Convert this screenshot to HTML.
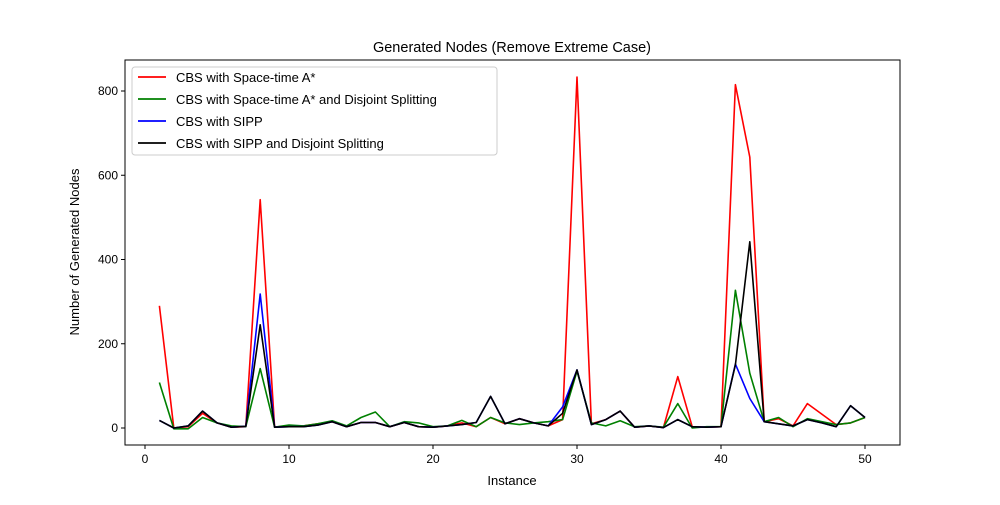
<!DOCTYPE html>
<html><head><meta charset="utf-8"><style>
body{margin:0;background:#fff;font-family:"Liberation Sans","DejaVu Sans",sans-serif}
svg text{font-family:"Liberation Sans","DejaVu Sans",sans-serif}
</style></head><body>
<svg id="chart" width="1000" height="500" xmlns="http://www.w3.org/2000/svg">
<rect width="1000" height="500" fill="#fff"/>
<g id="plot"></g>
</svg>
<script>
const instances = Array.from({length:50},(_,i)=>i+1);
const cbsAstar = [290,0,3,35,12,2,3,542,2,5,5,10,15,3,13,13,3,13,3,2,5,12,3,25,10,22,12,5,20,833,10,20,40,2,5,1,122,3,2,3,815,643,15,22,5,58,33,8,12,25];
const cbsAstarDS = [108,-2,-2,25,12,5,3,141,2,7,5,10,17,5,25,38,3,15,12,3,5,18,3,25,12,8,12,15,20,135,12,5,17,3,5,2,58,0,3,3,327,130,15,25,3,22,15,8,12,25];
const cbsSipp = [18,0,5,40,12,2,4,318,2,3,3,7,15,3,13,13,3,13,3,2,5,8,13,75,10,22,12,5,50,138,8,20,40,2,5,1,20,3,2,3,152,70,15,10,5,20,12,3,53,25];
const cbsSippDS = [18,0,5,40,12,2,4,245,2,3,3,7,15,3,13,13,3,13,3,2,5,8,13,75,10,22,12,5,35,138,8,20,40,2,5,1,20,3,2,3,150,442,15,10,5,20,12,3,53,25];
const xTicks = [0,10,20,30,40,50];
const yTicks = [0,200,400,600,800];
const seriesNames = ["CBS with Space-time A*","CBS with Space-time A* and Disjoint Splitting","CBS with SIPP","CBS with SIPP and Disjoint Splitting"];

const L=125,R=900,T=60,B=445;
const xs=v=>145+v*14.4;
const ys=v=>428-v*0.42125;
const NS="http://www.w3.org/2000/svg";
const g=document.getElementById('plot');
function mk(t,a,p){const e=document.createElementNS(NS,t);for(const k in a)e.setAttribute(k,a[k]);(p||g).appendChild(e);return e;}

const frame=mk('rect',{x:L,y:T,width:R-L,height:B-T,fill:'none',stroke:'#000','stroke-width':1});



xTicks.forEach(v=>{
 const t=mk('line',{x1:xs(v),x2:xs(v),y1:B,y2:B+4,stroke:'#000'});
 
 
 const l=mk('text',{x:xs(v),y:B+18,'text-anchor':'middle','font-size':12});
 l.textContent=v;
 
 
});
yTicks.forEach(v=>{
 const t=mk('line',{x1:L-4,x2:L,y1:ys(v),y2:ys(v),stroke:'#000'});
 
 
 const l=mk('text',{x:L-7,y:ys(v)+4,'text-anchor':'end','font-size':12});
 l.textContent=v;
 
 
});

const colors=['#ff0000','#008000','#0000ff','#000000'];
const allSeries=[cbsAstar,cbsAstarDS,cbsSipp,cbsSippDS];
allSeries.forEach((s,i)=>{
 const d=s.map((v,j)=>(j?'L':'M')+xs(instances[j]).toFixed(1)+','+ys(v).toFixed(1)).join('');
 const p=mk('path',{d:d,fill:'none',stroke:colors[i],'stroke-width':1.6,'stroke-linejoin':'round'});
 
 
});

const title=mk('text',{x:512,y:52,'text-anchor':'middle','font-size':14.5});
title.textContent='Generated Nodes (Remove Extreme Case)';


const xl=mk('text',{x:512,y:485,'text-anchor':'middle','font-size':13});
xl.textContent='Instance';


const yl=mk('text',{x:0,y:0,'text-anchor':'middle','font-size':13,transform:'translate(79,252) rotate(-90)'});
yl.textContent='Number of Generated Nodes';



const lg=mk('rect',{x:132,y:67,width:365,height:88,rx:3,fill:'#fff',stroke:'#ccc'});


seriesNames.forEach((n,i)=>{
 const y=77+i*22;
 const ln=mk('line',{x1:138,x2:166,y1:y,y2:y,stroke:colors[i],'stroke-width':1.8});
 
 
 const t=mk('text',{x:176,y:y+5,'font-size':13});
 t.textContent=n;
 
 
});
</script>
</body></html>
